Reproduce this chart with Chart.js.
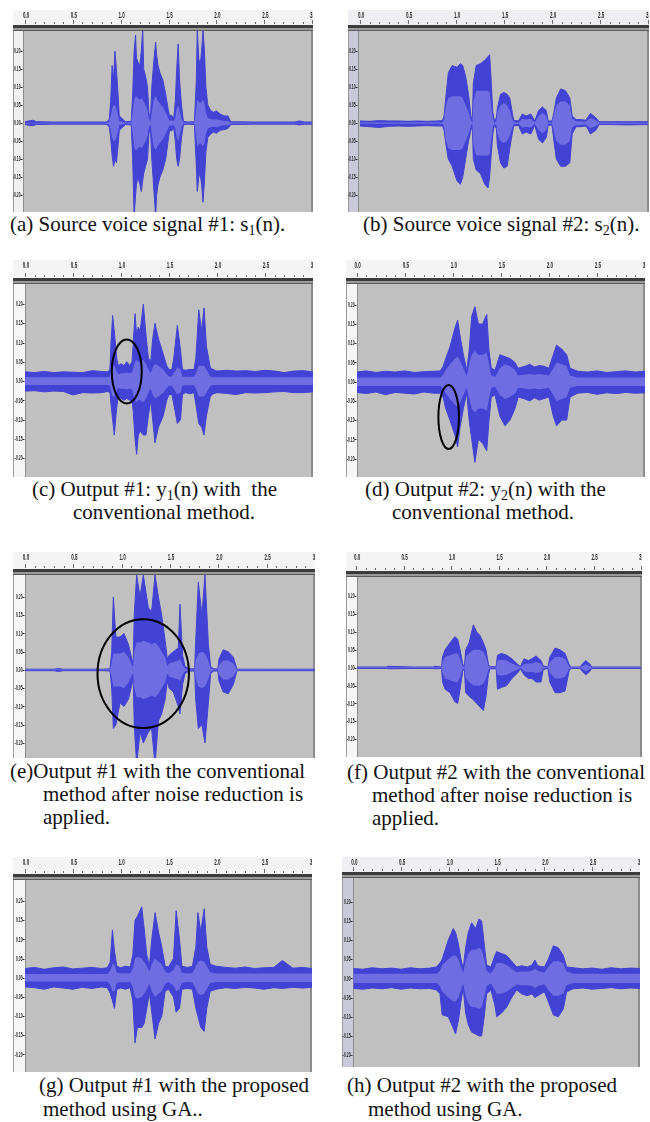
<!DOCTYPE html>
<html>
<head>
<meta charset="utf-8">
<script src="https://cdn.jsdelivr.net/npm/chart.js@4.4.1/dist/chart.umd.min.js"></script>
<style>
  body { margin: 0; background: #fff; }
  #page { position: relative; width: 650px; height: 1122px; overflow: hidden; background: #fff; }
  #page canvas { position: absolute; }
  .cap { position: absolute; font-family: "Liberation Serif", "Times New Roman", serif; font-size: 21px; line-height: 21px; color: #111; white-space: nowrap; }
  .cap sub { font-size: 14px; vertical-align: -4px; line-height: 0; }
</style>
</head>
<body>
<div id="page">
  <canvas id="cA" width="300" height="202" style="left:13px;top:10px"></canvas>
  <canvas id="cB" width="301" height="202" style="left:348px;top:10px"></canvas>
  <canvas id="cC" width="300" height="217" style="left:13px;top:260px"></canvas>
  <canvas id="cD" width="299" height="217" style="left:346px;top:260px"></canvas>
  <canvas id="cE" width="302" height="206" style="left:13px;top:552px"></canvas>
  <canvas id="cF" width="296" height="205" style="left:346px;top:552px"></canvas>
  <canvas id="cG" width="299" height="215" style="left:13px;top:857px"></canvas>
  <canvas id="cH" width="298" height="210" style="left:342px;top:857px"></canvas>

  <div class="cap" style="left:10px;top:214px">(a) Source voice signal #1: s<sub>1</sub>(n).</div>
  <div class="cap" style="left:363px;top:214px">(b) Source voice signal #2: s<sub>2</sub>(n).</div>

  <div class="cap" style="left:32px;top:479px">(c) Output #1: y<sub>1</sub>(n) with&nbsp; the</div>
  <div class="cap" style="left:73px;top:502px">conventional method.</div>
  <div class="cap" style="left:365px;top:479px">(d) Output #2: y<sub>2</sub>(n) with the</div>
  <div class="cap" style="left:392px;top:502px">conventional method.</div>

  <div class="cap" style="left:10px;top:761px">(e)Output #1 with the conventional</div>
  <div class="cap" style="left:43px;top:784px">method after noise reduction is</div>
  <div class="cap" style="left:43px;top:807px">applied.</div>
  <div class="cap" style="left:347px;top:762px">(f) Output #2 with the conventional</div>
  <div class="cap" style="left:372px;top:785px">method after noise reduction is</div>
  <div class="cap" style="left:372px;top:808px">applied.</div>

  <div class="cap" style="left:39px;top:1075px">(g) Output #1 with the proposed</div>
  <div class="cap" style="left:43px;top:1099px">method using GA..</div>
  <div class="cap" style="left:347px;top:1075px">(h) Output #2 with the proposed</div>
  <div class="cap" style="left:368px;top:1099px">method using GA.</div>
</div>

<script>
// ---- axis ticks (seconds / amplitude) ----
const xTickVals = [0, 0.5, 1, 1.5, 2, 2.5, 3];
const yTickVals = [0.2, 0.15, 0.1, 0.05, 0, -0.05, -0.1, -0.15, -0.2];

// ---- (a) source voice #1 : time, peak top, peak bottom, rms ----
const tA   = [0,0.04,0.08,0.12,0.3,0.6,0.85, 0.88,0.895,0.91,0.925,0.94,0.955,0.97,0.985, 1.05,1.11,
              1.125,1.14,1.155,1.165,1.18,1.2,1.215,1.23,1.24,1.26,1.28,1.295, 1.31,
              1.325,1.345,1.365,1.375,1.39,1.41,1.44,1.47,1.495, 1.51,1.53,1.555,
              1.57,1.585,1.6,1.615,1.635,1.655, 1.7,1.77, 1.79,1.8,1.815,1.83,1.845,1.86,1.875,1.89,
              1.91,1.94,1.97,2.0,2.04,2.08,2.12,2.15, 2.4,2.82,2.87,2.92,3.0];
const hiA  = [0.004,0.006,0.008,0.004,0.003,0.003,0.003, 0.01,0.06,0.16,0.12,0.2,0.15,0.09,0.02, 0.004,0.005,
              0.08,0.2,0.245,0.18,0.17,0.16,0.2,0.26,0.15,0.13,0.1,0.03, 0.01,
              0.1,0.17,0.225,0.19,0.16,0.14,0.12,0.08,0.04, 0.02,0.022,0.015,
              0.06,0.15,0.22,0.12,0.05,0.005, 0.003,0.004, 0.12,0.26,0.18,0.16,0.2,0.26,0.2,0.1,
              0.05,0.035,0.03,0.034,0.025,0.02,0.02,0.004, 0.003,0.003,0.006,0.003,0.003];
const loA  = [-0.004,-0.006,-0.007,-0.004,-0.003,-0.003,-0.003, -0.01,-0.04,-0.09,-0.12,-0.1,-0.11,-0.07,-0.02, -0.004,-0.005,
              -0.1,-0.26,-0.2,-0.17,-0.15,-0.17,-0.19,-0.16,-0.14,-0.12,-0.1,-0.03, -0.01,
              -0.1,-0.18,-0.26,-0.2,-0.17,-0.15,-0.13,-0.1,-0.05, -0.02,-0.022,-0.015,
              -0.05,-0.1,-0.12,-0.1,-0.04,-0.005, -0.003,-0.004, -0.12,-0.19,-0.15,-0.14,-0.17,-0.22,-0.16,-0.08,
              -0.04,-0.03,-0.025,-0.028,-0.02,-0.018,-0.015,-0.004, -0.003,-0.003,-0.005,-0.003,-0.003];
const rmsA = [0.001,0.001,0.001,0.001,0.001,0.001,0.001, 0.004,0.02,0.04,0.05,0.05,0.04,0.025,0.006, 0.001,0.002,
              0.03,0.065,0.075,0.075,0.07,0.065,0.07,0.065,0.06,0.05,0.035,0.012, 0.003,
              0.03,0.065,0.075,0.07,0.06,0.055,0.045,0.03,0.015, 0.006,0.008,0.005,
              0.015,0.04,0.05,0.035,0.012,0.002, 0.001,0.002, 0.04,0.065,0.06,0.055,0.06,0.065,0.055,0.03,
              0.015,0.011,0.01,0.011,0.008,0.006,0.006,0.002, 0.001,0.001,0.001,0.001,0.001];

// ---- (b) source voice #2 ----
const tB   = [0,0.1,0.2,0.3,0.4,0.5,0.6,0.7,0.8,0.86, 0.875,0.895,0.92,0.96,1.01,1.045,1.07,1.1,1.13,1.155, 1.17,
              1.18,1.21,1.254,1.3,1.334,1.35,1.366,1.383, 1.4,1.42, 1.43,1.463,1.498,1.533,1.56,1.585, 1.6,1.65,
              1.69,1.73,1.78, 1.82, 1.86,1.9,1.94, 1.96,2.0, 2.02,2.045,2.09,2.14,2.185,2.21, 2.25,2.3,2.35,
              2.37,2.4,2.456, 2.49,2.6,2.8,3.0];
const hiB  = [0.006,0.005,0.007,0.006,0.006,0.005,0.006,0.005,0.006,0.007, 0.02,0.075,0.14,0.16,0.155,0.165,0.16,0.13,0.08,0.02, 0.006,
              0.11,0.16,0.165,0.175,0.185,0.19,0.12,0.03, 0.006,0.015, 0.04,0.08,0.085,0.08,0.07,0.03, 0.008,0.006,
              0.025,0.02,0.025, 0.006, 0.035,0.045,0.035, 0.006,0.006, 0.03,0.07,0.095,0.09,0.07,0.02, 0.01,0.01,0.008,
              0.015,0.027,0.015, 0.004,0.004,0.004,0.004];
const loB  = [-0.008,-0.01,-0.012,-0.009,-0.008,-0.009,-0.008,-0.007,-0.008,-0.008, -0.02,-0.06,-0.1,-0.12,-0.16,-0.17,-0.15,-0.1,-0.05,-0.02, -0.006,
              -0.1,-0.13,-0.14,-0.17,-0.18,-0.15,-0.09,-0.03, -0.006,-0.015, -0.06,-0.11,-0.125,-0.12,-0.07,-0.03, -0.008,-0.006,
              -0.03,-0.025,-0.03, -0.006, -0.045,-0.055,-0.04, -0.006,-0.006, -0.05,-0.1,-0.12,-0.12,-0.11,-0.03, -0.01,-0.01,-0.008,
              -0.015,-0.03,-0.02, -0.004,-0.004,-0.005,-0.004];
const rmsB = [0.002,0.002,0.002,0.002,0.002,0.002,0.002,0.002,0.002,0.002, 0.01,0.05,0.07,0.075,0.075,0.075,0.07,0.05,0.03,0.008, 0.002,
              0.06,0.09,0.09,0.09,0.09,0.085,0.05,0.012, 0.002,0.006, 0.03,0.05,0.055,0.05,0.035,0.012, 0.003,0.002,
              0.012,0.01,0.012, 0.002, 0.02,0.028,0.02, 0.002,0.002, 0.025,0.05,0.06,0.06,0.05,0.012, 0.005,0.005,0.004,
              0.008,0.014,0.008, 0.002,0.002,0.002,0.002];

// ---- (c) output #1, conventional ----
const tC   = [0,0.1,0.2,0.3,0.4,0.5,0.6,0.7,0.8,0.86, 0.885,0.896,0.913,0.93,0.955, 0.97,1.0,1.03,1.06,1.09,1.115,
              1.128,1.146,1.163,1.18,1.2,1.233,1.26,1.285,1.31, 1.33,1.354,1.39,1.44,1.476, 1.5,1.53,
              1.55,1.587,1.62,1.64, 1.67,1.72,1.76, 1.78,1.81,1.84,1.865,1.89,1.93,
              1.96,2.0,2.1,2.2,2.3,2.4,2.5,2.6,2.7,2.8,2.9,3.0];
const hiC  = [0.024,0.022,0.025,0.022,0.024,0.023,0.022,0.027,0.025,0.024, 0.03,0.1,0.17,0.13,0.06, 0.04,0.045,0.04,0.05,0.04,0.05,
              0.1,0.175,0.12,0.14,0.13,0.2,0.12,0.06,0.05, 0.11,0.15,0.11,0.07,0.04, 0.03,0.03,
              0.06,0.145,0.08,0.03, 0.028,0.03,0.03, 0.06,0.185,0.13,0.19,0.09,0.035,
              0.03,0.026,0.028,0.026,0.027,0.025,0.028,0.026,0.022,0.026,0.027,0.024];
const loC  = [-0.026,-0.025,-0.028,-0.026,-0.027,-0.036,-0.03,-0.031,-0.03,-0.027, -0.03,-0.06,-0.1,-0.14,-0.07, -0.04,-0.045,-0.05,-0.045,-0.05,-0.05,
              -0.08,-0.15,-0.19,-0.14,-0.13,-0.14,-0.14,-0.09,-0.05, -0.1,-0.16,-0.12,-0.09,-0.05, -0.035,-0.035,
              -0.06,-0.11,-0.1,-0.035, -0.03,-0.033,-0.03, -0.06,-0.11,-0.12,-0.14,-0.09,-0.04,
              -0.033,-0.03,-0.032,-0.035,-0.03,-0.031,-0.03,-0.028,-0.027,-0.03,-0.03,-0.028];
const rmsC = [0.01,0.01,0.01,0.01,0.01,0.01,0.01,0.01,0.01,0.01, 0.012,0.025,0.04,0.04,0.025, 0.018,0.02,0.02,0.022,0.02,0.022,
              0.035,0.05,0.055,0.05,0.05,0.055,0.045,0.03,0.02, 0.035,0.045,0.04,0.03,0.018, 0.012,0.012,
              0.02,0.035,0.03,0.012, 0.011,0.011,0.011, 0.02,0.04,0.04,0.04,0.03,0.012,
              0.01,0.01,0.01,0.01,0.01,0.01,0.01,0.01,0.01,0.01,0.01,0.01];

// ---- (d) output #2, conventional ----
const tD   = [0,0.1,0.2,0.3,0.4,0.5,0.6,0.7,0.8,0.87, 0.9,0.926,0.97,1.023,1.05,1.075,1.11,1.145,
              1.17,1.197,1.23,1.266,1.31,1.353,1.377,1.4, 1.44, 1.49,1.543,1.595,1.647,1.68,
              1.75,1.8,1.85,1.9,1.95,2.0, 2.046,2.08,2.133,2.185,2.22, 2.3,2.4,2.5,2.6,2.7,2.8,2.9,3.0];
const hiD  = [0.025,0.028,0.024,0.027,0.025,0.028,0.024,0.026,0.027,0.028, 0.04,0.06,0.09,0.14,0.16,0.12,0.07,0.03,
              0.08,0.17,0.195,0.15,0.15,0.175,0.08,0.035, 0.03, 0.07,0.065,0.06,0.05,0.035,
              0.04,0.045,0.038,0.042,0.04,0.035, 0.07,0.095,0.085,0.07,0.035, 0.027,0.025,0.028,0.024,0.026,0.028,0.025,0.027];
const loD  = [-0.028,-0.031,-0.027,-0.034,-0.028,-0.03,-0.032,-0.027,-0.03,-0.03, -0.04,-0.07,-0.1,-0.14,-0.17,-0.12,-0.07,-0.03,
              -0.1,-0.15,-0.21,-0.15,-0.16,-0.18,-0.1,-0.04, -0.035, -0.09,-0.115,-0.1,-0.07,-0.04,
              -0.045,-0.05,-0.042,-0.048,-0.044,-0.04, -0.09,-0.115,-0.1,-0.1,-0.04, -0.03,-0.028,-0.033,-0.029,-0.031,-0.028,-0.03,-0.029];
const rmsD = [0.011,0.011,0.011,0.011,0.011,0.011,0.011,0.011,0.011,0.011, 0.018,0.03,0.045,0.06,0.065,0.055,0.035,0.015,
              0.045,0.07,0.08,0.07,0.07,0.075,0.045,0.016, 0.013, 0.035,0.045,0.04,0.03,0.016,
              0.018,0.02,0.018,0.02,0.018,0.016, 0.035,0.05,0.045,0.04,0.016, 0.011,0.011,0.011,0.011,0.011,0.011,0.011,0.011];

// ---- (e) output #1, conventional + noise reduction ----
const tE   = [0,0.3,0.345,0.4,0.6,0.8,0.88, 0.897,0.914,0.94,0.983,1.024,1.07,1.114,
              1.12,1.13,1.155,1.19,1.224,1.276,1.31,1.345,1.38,1.414,1.45,1.472,
              1.49,1.534,1.586,1.603,1.63,1.655, 1.7,1.755, 1.766,1.793,1.83,1.862,1.897,1.92,
              1.95,1.995, 2.007,2.05,2.103,2.155,2.19, 2.2,2.5,2.8,3.0];
const hiE  = [0.002,0.002,0.004,0.002,0.002,0.002,0.003, 0.05,0.2,0.09,0.09,0.1,0.07,0.02,
              0.03,0.15,0.26,0.2,0.26,0.17,0.16,0.26,0.2,0.15,0.08,0.03,
              0.04,0.05,0.06,0.18,0.04,0.01, 0.003,0.003, 0.08,0.24,0.15,0.26,0.07,0.01,
              0.003,0.003, 0.03,0.055,0.05,0.035,0.005, 0.002,0.002,0.002,0.002];
const loE  = [-0.002,-0.002,-0.004,-0.002,-0.002,-0.002,-0.003, -0.05,-0.16,-0.15,-0.09,-0.1,-0.08,-0.03,
              -0.03,-0.15,-0.26,-0.17,-0.2,-0.17,-0.16,-0.26,-0.14,-0.12,-0.08,-0.03,
              -0.05,-0.06,-0.1,-0.12,-0.04,-0.01, -0.003,-0.003, -0.08,-0.16,-0.15,-0.2,-0.09,-0.01,
              -0.003,-0.003, -0.03,-0.06,-0.065,-0.04,-0.005, -0.002,-0.002,-0.002,-0.002];
const rmsE = [0.001,0.001,0.001,0.001,0.001,0.001,0.001, 0.02,0.045,0.045,0.045,0.05,0.035,0.01,
              0.012,0.05,0.075,0.075,0.08,0.075,0.07,0.075,0.065,0.05,0.035,0.01,
              0.018,0.022,0.026,0.03,0.013,0.004, 0.001,0.001, 0.025,0.045,0.05,0.045,0.025,0.004,
              0.001,0.001, 0.013,0.026,0.026,0.018,0.002, 0.001,0.001,0.001,0.001];

// ---- (f) output #2, conventional + noise reduction ----
const tF   = [0,0.32,0.34,0.6,0.81,0.83,0.9, 0.91,0.937,0.99,1.04,1.07,1.095,1.123, 1.14,
              1.154,1.19,1.235,1.27,1.305,1.34,1.368,1.393, 1.41,1.475, 1.488,1.533,1.586,1.64,1.7, 1.73,
              1.768,1.814,1.85,1.895,1.947,1.97, 2.02, 2.04,2.095,2.147,2.2,2.242, 2.26,2.36,
              2.38,2.418,2.463,2.48, 2.6,3.0];
const hiF  = [0.002,0.002,0.004,0.002,0.002,0.004,0.002, 0.03,0.05,0.07,0.087,0.08,0.05,0.01, 0.003,
              0.05,0.07,0.12,0.1,0.09,0.07,0.05,0.01, 0.003,0.003, 0.035,0.04,0.035,0.025,0.01, 0.003,
              0.025,0.02,0.025,0.033,0.02,0.005, 0.002, 0.03,0.055,0.05,0.04,0.01, 0.002,0.002,
              0.01,0.02,0.01,0.002, 0.002,0.002];
const loF  = [-0.002,-0.002,-0.003,-0.002,-0.002,-0.003,-0.002, -0.04,-0.06,-0.07,-0.095,-0.1,-0.06,-0.01, -0.003,
              -0.07,-0.08,-0.09,-0.1,-0.11,-0.12,-0.08,-0.02, -0.003,-0.003, -0.06,-0.055,-0.05,-0.03,-0.015, -0.003,
              -0.02,-0.03,-0.03,-0.04,-0.04,-0.005, -0.002, -0.04,-0.07,-0.07,-0.065,-0.01, -0.002,-0.002,
              -0.01,-0.02,-0.01,-0.002, -0.002,-0.002];
const rmsF = [0.001,0.001,0.001,0.001,0.001,0.001,0.001, 0.015,0.03,0.035,0.04,0.04,0.025,0.005, 0.001,
              0.03,0.04,0.05,0.05,0.05,0.045,0.03,0.006, 0.001,0.001, 0.02,0.022,0.02,0.012,0.005, 0.001,
              0.01,0.012,0.012,0.015,0.012,0.002, 0.001, 0.015,0.03,0.03,0.025,0.004, 0.001,0.001,
              0.004,0.01,0.004,0.001, 0.001,0.001];

// ---- (g) output #1, proposed GA ----
const tG   = [0,0.1,0.2,0.3,0.4,0.5,0.6,0.7,0.8,0.86, 0.89,0.914,0.935,0.96, 1.0,1.05,1.1,
              1.127,1.15,1.175,1.22,1.245,1.273,1.3, 1.325,1.36,1.395,1.43,1.465, 1.5,
              1.552,1.58,1.615,1.64, 1.7,1.75, 1.786,1.807,1.838,1.873,1.9,1.936,
              2.0,2.1,2.2,2.3,2.4,2.5,2.6,2.69,2.8,2.9,3.0];
const hiG  = [0.024,0.027,0.022,0.026,0.028,0.023,0.025,0.027,0.024,0.026, 0.04,0.125,0.07,0.03, 0.026,0.03,0.028,
              0.06,0.15,0.16,0.185,0.13,0.06,0.03, 0.1,0.17,0.12,0.08,0.03, 0.028,
              0.05,0.175,0.1,0.03, 0.027,0.03, 0.08,0.17,0.12,0.18,0.08,0.035,
              0.03,0.027,0.025,0.028,0.024,0.026,0.027,0.045,0.025,0.027,0.024];
const loG  = [-0.024,-0.026,-0.03,-0.024,-0.027,-0.03,-0.025,-0.028,-0.024,-0.026, -0.04,-0.06,-0.08,-0.03, -0.027,-0.03,-0.026,
              -0.06,-0.17,-0.13,-0.13,-0.12,-0.08,-0.04, -0.09,-0.16,-0.12,-0.1,-0.035, -0.03,
              -0.05,-0.09,-0.08,-0.03, -0.028,-0.03, -0.08,-0.1,-0.13,-0.14,-0.08,-0.035,
              -0.03,-0.026,-0.028,-0.025,-0.027,-0.03,-0.026,-0.028,-0.025,-0.027,-0.025];
const rmsG = [0.01,0.01,0.01,0.01,0.01,0.01,0.01,0.01,0.01,0.01, 0.018,0.035,0.035,0.013, 0.011,0.012,0.011,
              0.025,0.05,0.055,0.05,0.042,0.03,0.016, 0.035,0.05,0.042,0.035,0.016, 0.011,
              0.02,0.035,0.03,0.013, 0.011,0.012, 0.03,0.042,0.045,0.042,0.03,0.014,
              0.011,0.011,0.011,0.011,0.011,0.011,0.011,0.011,0.011,0.011,0.011];

// ---- (h) output #2, proposed GA ----
const tH   = [0,0.1,0.2,0.3,0.4,0.5,0.6,0.7,0.8,0.87, 0.907,0.93,0.994,1.046,1.07,1.1,1.127,1.15,
              1.175,1.203,1.238,1.28,1.315,1.343,1.37,1.395, 1.44, 1.482,1.5,1.552,1.604,1.657,1.71,
              1.76,1.82,1.87,1.9,1.93,2.0, 2.04,2.093,2.145,2.197,2.232, 2.3,2.4,2.5,2.6,2.7,2.8,2.9,3.0];
const hiH  = [0.026,0.024,0.028,0.025,0.027,0.024,0.028,0.025,0.027,0.03, 0.04,0.05,0.1,0.13,0.12,0.09,0.05,0.025,
              0.08,0.12,0.145,0.13,0.155,0.15,0.09,0.035, 0.03, 0.06,0.07,0.065,0.06,0.045,0.03,
              0.033,0.03,0.035,0.048,0.033,0.03, 0.05,0.085,0.08,0.06,0.03, 0.028,0.025,0.027,0.024,0.028,0.025,0.027,0.026];
const loH  = [-0.026,-0.028,-0.025,-0.027,-0.024,-0.028,-0.025,-0.027,-0.026,-0.03, -0.04,-0.095,-0.1,-0.13,-0.145,-0.11,-0.06,-0.025,
              -0.09,-0.12,-0.14,-0.145,-0.15,-0.15,-0.1,-0.04, -0.03, -0.07,-0.1,-0.09,-0.075,-0.05,-0.03,
              -0.04,-0.045,-0.04,-0.05,-0.045,-0.035, -0.06,-0.095,-0.1,-0.08,-0.035, -0.027,-0.025,-0.028,-0.026,-0.024,-0.027,-0.025,-0.026];
const rmsH = [0.012,0.012,0.012,0.012,0.012,0.012,0.012,0.012,0.012,0.012, 0.02,0.035,0.05,0.06,0.06,0.05,0.03,0.014,
              0.045,0.065,0.075,0.075,0.08,0.075,0.05,0.02, 0.013, 0.03,0.04,0.04,0.035,0.025,0.016,
              0.018,0.018,0.02,0.025,0.02,0.015, 0.03,0.045,0.045,0.04,0.018, 0.012,0.012,0.012,0.012,0.012,0.012,0.012,0.012];

// ---- hand-drawn rings in (c), (d), (e): centre time, centre amplitude, half-width (s), half-height ----
const ringC = [1.06, 0.025, 0.156, 0.083];
const ringD = [0.957, -0.092, 0.107, 0.083];
const ringE = [1.223, -0.01, 0.473, 0.149];

const PEAK = "#4242d4";
const RMS = "#6e6ee2";
const PLOT_BG = "#c0c0c0";

const panels = [
  { id: "cA", strip: 10, ruler: 21, xMin: -0.021, xMax: 3.009, yMin: -0.247, yMax: 0.256, side: "#f1f1f1", t: tA, hi: hiA, lo: loA, rms: rmsA },
  { id: "cB", strip: 10, ruler: 21, xMin: -0.021, xMax: 3.01,  yMin: -0.247, yMax: 0.256, side: "#c9c9da", t: tB, hi: hiB, lo: loB, rms: rmsB },
  { id: "cC", strip: 12, ruler: 24, xMin: 0,      xMax: 3.0,   yMin: -0.249, yMax: 0.252, side: "#f6f6f6", t: tC, hi: hiC, lo: loC, rms: rmsC, ring: ringC },
  { id: "cD", strip: 11, ruler: 24, xMin: 0.003,  xMax: 3.0,   yMin: -0.248, yMax: 0.254, side: "#f6f6f6", t: tD, hi: hiD, lo: loD, rms: rmsD, ring: ringD },
  { id: "cE", strip: 12, ruler: 23, xMin: 0,      xMax: 3.0,   yMin: -0.241, yMax: 0.26,  side: "#f6f6f6", t: tE, hi: hiE, lo: loE, rms: rmsE, ring: ringE },
  { id: "cF", strip: 11, ruler: 25, xMin: 0.01,   xMax: 3.01,  yMin: -0.25,  yMax: 0.254, side: "#f6f6f6", t: tF, hi: hiF, lo: loF, rms: rmsF },
  { id: "cG", strip: 12, ruler: 23, xMin: 0,      xMax: 3.0,   yMin: -0.246, yMax: 0.255, side: "#f6f6f6", t: tG, hi: hiG, lo: loG, rms: rmsG },
  { id: "cH", strip: 11, ruler: 21, xMin: -0.003, xMax: 3.0,   yMin: -0.231, yMax: 0.262, side: "#c9c9da", t: tH, hi: hiH, lo: loH, rms: rmsH }
];

function pts(t, v, sign) {
  return t.map((x, i) => ({ x: x, y: sign * v[i] }));
}

// squeezed text, like the narrow Audacity ruler font
function narrowText(ctx, txt, x, y, align, sx) {
  ctx.save();
  ctx.translate(x, y);
  ctx.scale(sx, 1);
  ctx.textAlign = align;
  ctx.fillText(txt, 0, 0);
  ctx.restore();
}

const audacityFrame = {
  id: "audacityFrame",
  beforeDraw(chart, args, opts) {
    const { ctx, chartArea: a, width, height } = chart;
    const xs = chart.scales.x, ys = chart.scales.y;
    ctx.save();
    ctx.fillStyle = "#ffffff";
    ctx.fillRect(0, 0, width, height);

    // time ruler
    ctx.fillStyle = opts.side === "#c9c9da" ? "#efeff3" : "#f4f4f4";
    ctx.fillRect(0, 0, width, a.top - 6);
    ctx.fillStyle = "#3c3c3c";
    ctx.fillRect(0, a.top - 6, width, 3);
    ctx.fillStyle = "#9a9a9a";
    ctx.fillRect(0, a.top - 3, width, 2);
    ctx.fillStyle = "#5a5a5a";
    ctx.fillRect(0, a.top - 1, width, 1);

    ctx.strokeStyle = "#707070";
    ctx.lineWidth = 1;
    for (let k = 0; k <= 30; k++) {
      const px = Math.round(xs.getPixelForValue(k / 10)) + 0.5;
      ctx.beginPath();
      ctx.moveTo(px, a.top - 7);
      ctx.lineTo(px, a.top - (k % 5 === 0 ? 11 : 9));
      ctx.stroke();
    }
    ctx.fillStyle = "#2a2a2a";
    ctx.font = "bold 9px 'Liberation Sans', sans-serif";
    ctx.textBaseline = "middle";
    xTickVals.forEach(v => {
      narrowText(ctx, v.toFixed(1), xs.getPixelForValue(v) + 1, 6, "center", 0.5);
    });

    // amplitude strip
    ctx.fillStyle = opts.side;
    ctx.fillRect(0, a.top, a.left, a.bottom - a.top);
    ctx.fillStyle = "#9a9a9a";
    ctx.fillRect(0, a.top, 1, a.bottom - a.top);
    ctx.fillStyle = "#2a2a2a";
    ctx.font = "bold 8px 'Liberation Sans', sans-serif";
    yTickVals.forEach(v => {
      const py = ys.getPixelForValue(v);
      narrowText(ctx, v.toFixed(2), a.left - 2.5, py, "right", 0.42);
      ctx.fillRect(a.left - 2.5, Math.round(py), 2, 1);
    });

    // plot background
    ctx.fillStyle = PLOT_BG;
    ctx.fillRect(a.left, a.top, a.right - a.left, a.bottom - a.top);
    ctx.fillStyle = "#8c8c8c";
    ctx.fillRect(a.left, a.top, 1, a.bottom - a.top);
    ctx.fillRect(a.right - 2, a.top, 2, a.bottom - a.top);
    ctx.restore();
  },
  afterDatasetsDraw(chart, args, opts) {
    if (!opts.ring) return;
    const { ctx } = chart;
    const xs = chart.scales.x, ys = chart.scales.y;
    const [cx, cy, rx, ry] = opts.ring;
    const px = xs.getPixelForValue(cx), py = ys.getPixelForValue(cy);
    const rpx = Math.abs(xs.getPixelForValue(cx + rx) - px);
    const rpy = Math.abs(ys.getPixelForValue(cy + ry) - py);
    ctx.save();
    ctx.strokeStyle = "#000";
    ctx.lineWidth = 2;
    ctx.beginPath();
    ctx.ellipse(px, py, rpx, rpy, 0, 0, Math.PI * 2);
    ctx.stroke();
    ctx.restore();
  }
};

panels.forEach(p => {
  new Chart(document.getElementById(p.id), {
    type: "line",
    data: {
      datasets: [
        { data: pts(p.t, p.rms, 1), borderWidth: 0, borderColor: RMS, backgroundColor: RMS, fill: "+1" },
        { data: pts(p.t, p.rms, -1), borderWidth: 0, borderColor: RMS, fill: false },
        { data: pts(p.t, p.hi, 1), borderWidth: 1, borderColor: PEAK, backgroundColor: PEAK, fill: "+1" },
        { data: pts(p.t, p.lo, 1), borderWidth: 1, borderColor: PEAK, fill: false }
      ]
    },
    options: {
      responsive: false,
      animation: false,
      devicePixelRatio: 1,
      layout: { padding: 0 },
      elements: { point: { radius: 0 }, line: { tension: 0 } },
      plugins: {
        legend: { display: false },
        tooltip: { enabled: false },
        audacityFrame: { side: p.side, ring: p.ring }
      },
      scales: {
        x: {
          type: "linear", position: "top", min: p.xMin, max: p.xMax,
          grid: { display: false }, border: { display: false }, ticks: { display: false },
          afterFit(s) { s.height = p.ruler; }
        },
        y: {
          type: "linear", min: p.yMin, max: p.yMax,
          grid: { display: false }, border: { display: false }, ticks: { display: false },
          afterFit(s) { s.width = p.strip; }
        }
      }
    },
    plugins: [audacityFrame]
  });
});
</script>
</body>
</html>
